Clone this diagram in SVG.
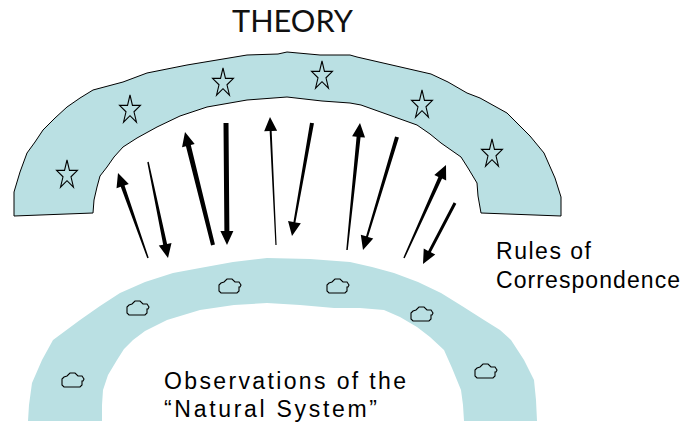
<svg xmlns="http://www.w3.org/2000/svg" width="684" height="423" viewBox="0 0 684 423">
<style>
.band{fill:#bae0e3}
.outline{stroke:#000;stroke-width:1}
.star{fill:none;stroke:#000;stroke-width:1.1;stroke-linejoin:miter}
.rock{fill:none;stroke:#000;stroke-width:1.1}
.arr{fill:#000;stroke:none}
.lbl{font-family:"Liberation Sans",Arial,sans-serif;font-size:23px;fill:#000}
.title{font-family:Lato,"Liberation Sans",sans-serif;font-size:30px;fill:#111}
</style>
<defs>
<path id="star" d="M0,-15 L2.47,-4.64 L10.46,-4.64 L3.99,1.77 L6.47,12.14 L0,5.73 L-6.47,12.14 L-3.99,1.77 L-10.46,-4.64 L-2.47,-4.64 Z"/>
<path id="rock" d="M-11,5 L-11,-1 L-9,-3 L-6,-4 L-3,-7 L2,-7 L5,-4 L9,-4 L11,-1 L10,1 L9,1 L9,5 L7,7 L-9,7 Z"/>
</defs>
<g id="theory">
<path class="band outline" d="M14,216 L14,192 L20,172 L27,153 L35,142 L43,130 L55,118 L67,107 L80,98 L93,90 L123,82 L147,73 L187,65 L247,55 L278,54 L287,52 L320,55 L350,55 L357,57 L431,74 L448,82 L467,93 L480,98 L507,113 L530,136 L544,153 L555,178 L561,197 L561,216 L481,213 L478,196 L477,183 L468,168 L461,157 L441,143 L430,134 L417,125 L361,105 L350,103 L322,101 L287,97 L247,100 L207,107 L180,116 L157,127 L137,138 L123,147 L114,157 L107,167 L100,176 L97,187 L94,200 L93,213 Z"/>
<use href="#star" class="star" x="67" y="175"/>
<use href="#star" class="star" x="130" y="110"/>
<use href="#star" class="star" x="223" y="83"/>
<use href="#star" class="star" x="322" y="76"/>
<use href="#star" class="star" x="422" y="105"/>
<use href="#star" class="star" x="492" y="154"/>
</g>
<g id="observations">
<path class="band" d="M28,421 L29,405 L32,383 L42,360 L53,340 L80,320 L100,306 L120,293 L145,282 L173,273 L200,268 L233,262 L267,258 L310,259 L350,262 L372,267 L394,273 L418,282 L441,293 L462,306 L484,320 L500,330 L511,340 L524,360 L534,380 L536,400 L537,421 L464,421 L463,405 L461,390 L452,368 L444,350 L430,337 L417,327 L400,317 L384,310 L360,308 L334,308 L300,305 L267,303 L234,305 L200,310 L167,320 L145,331 L133,340 L124,349 L117,360 L108,375 L103,390 L102,405 L102,421 Z"/>
<use href="#rock" class="rock" x="73" y="380"/>
<use href="#rock" class="rock" x="138" y="308"/>
<use href="#rock" class="rock" x="230" y="286"/>
<use href="#rock" class="rock" x="338" y="286"/>
<use href="#rock" class="rock" x="422" y="314"/>
<use href="#rock" class="rock" x="486" y="371"/>
</g>
<g id="connectors">
<polygon class="arr" points="148.71,257.75 124.55,185.53 128.79,184.04 118,173 116.53,188.36 120.77,186.87 147.29,258.25"/>
<polygon class="arr" points="147.27,162.15 163.18,244.70 158.78,245.62 168,258 171.50,242.96 167.10,243.88 148.73,161.85"/>
<polygon class="arr" points="214.94,244.52 190.80,144.99 194.68,144.03 185,132 182.06,147.15 185.94,146.19 211.06,245.48"/>
<polygon class="arr" points="223.5,123.02 224.39,231.02 220.39,231.05 227,245 233.39,230.95 229.39,230.98 228.5,122.98"/>
<polygon class="arr" points="276.60,244.97 271.66,130.93 277.15,130.68 270,117 264.17,131.28 269.66,131.03 275.40,245.03"/>
<polygon class="arr" points="310.03,122.65 293.46,222.04 288.04,221.08 292,236 300.84,223.34 295.42,222.38 313.97,123.35"/>
<polygon class="arr" points="347.75,250.08 360.56,137.13 365.04,137.59 360,123 352.10,136.27 356.58,136.73 346.25,249.92"/>
<polygon class="arr" points="395.08,136.42 366.07,236.30 360.81,234.72 363,250 373.25,238.46 367.99,236.88 398.92,137.58"/>
<polygon class="arr" points="404.68,258.31 442.06,178.58 446.16,180.44 446,165 434.32,175.08 438.42,176.94 403.32,257.69"/>
<polygon class="arr" points="453.67,202.30 428.17,250.90 423.74,248.58 423,264 435.26,254.62 430.83,252.30 456.33,203.70"/>
</g>
<g id="labels">
<text class="title" x="232" y="32" textLength="121" lengthAdjust="spacingAndGlyphs">THEORY</text>
<text class="lbl" x="496" y="259" textLength="95">Rules of</text>
<text class="lbl" x="496" y="288" textLength="184">Correspondence</text>
<text class="lbl" x="164" y="389" textLength="242">Observations of the</text>
<text class="lbl" x="164" y="417" textLength="213">“Natural System”</text>
</g>
</svg>
